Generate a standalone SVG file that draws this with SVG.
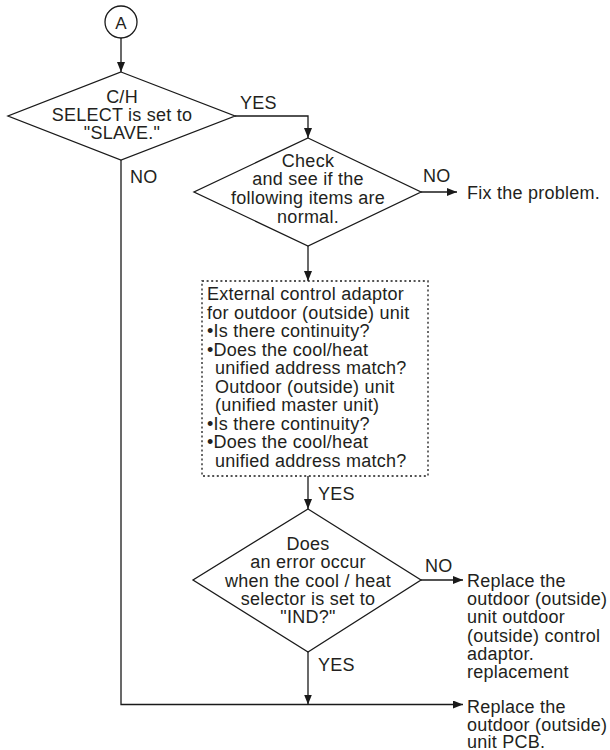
<svg xmlns="http://www.w3.org/2000/svg" width="610" height="750" viewBox="0 0 610 750">
<defs>
<marker id="arr" markerWidth="10" markerHeight="8" refX="10" refY="4" orient="auto" markerUnits="userSpaceOnUse">
<path d="M0,0 L10,4 L0,8 Z" fill="#1a1a1a"/>
</marker>
<style>
.ln{fill:none;stroke:#1a1a1a;stroke-width:1.3}
.shape{fill:#fff;stroke:#1a1a1a;stroke-width:1.3}
.dot{fill:#fff;stroke:#1a1a1a;stroke-width:1.3;stroke-dasharray:2 2.6}
text{font-family:"Liberation Sans",Arial,sans-serif;font-size:18px;letter-spacing:0.25px;fill:#231f20}
.c{text-anchor:middle}
</style>
</defs>
<rect width="610" height="750" fill="#fff"/>
<g id="connectors">
<path class="ln" d="M121,38 V72" marker-end="url(#arr)"/>
<path class="ln" d="M235,116 H308 V138" marker-end="url(#arr)"/>
<path class="ln" d="M421,192 H457" marker-end="url(#arr)"/>
<path class="ln" d="M308,246 V281" marker-end="url(#arr)"/>
<path class="ln" d="M308,476 V509" marker-end="url(#arr)"/>
<path class="ln" d="M421,580 H463" marker-end="url(#arr)"/>
<path class="ln" d="M308,652 V704.5" marker-end="url(#arr)"/>
<path class="ln" d="M121,160 V704.5 H463" marker-end="url(#arr)"/>
<text x="240" y="109">YES</text>
<text x="130" y="183">NO</text>
<text x="423" y="182">NO</text>
<text x="318" y="500">YES</text>
<text x="425" y="572">NO</text>
<text x="318" y="671">YES</text>
</g>
<g id="startA">
<circle class="shape" cx="121" cy="22" r="16"/>
<text class="c" x="121" y="29" style="font-size:17px;letter-spacing:0">A</text>
</g>
<g id="dec1">
<polygon class="shape" points="121,72 235,116 121,160 8,116"/>
<text class="c" x="122" y="102.5">C/H</text>
<text class="c" x="122" y="120.5">SELECT is set to</text>
<text class="c" x="122" y="138.5">"SLAVE."</text>
</g>
<g id="dec2">
<polygon class="shape" points="308,138 421,192 308,246 194,192"/>
<text class="c" x="308" y="166.7">Check</text>
<text class="c" x="308" y="185.3">and see if the</text>
<text class="c" x="308" y="204">following items are</text>
<text class="c" x="308" y="222.7">normal.</text>
</g>
<g id="fix">
<text x="467" y="198.5">Fix the problem.</text>
</g>
<g id="checklist">
<rect class="dot" x="202" y="281" width="226" height="195"/>
<text x="207" y="300">External control adaptor</text>
<text x="207" y="318.5">for outdoor (outside) unit</text>
<text x="207" y="337">•Is there continuity?</text>
<text x="207" y="355.5">•Does the cool/heat</text>
<text x="215" y="374">unified address match?</text>
<text x="215" y="392.5">Outdoor (outside) unit</text>
<text x="215" y="411">(unified master unit)</text>
<text x="207" y="429.5">•Is there continuity?</text>
<text x="207" y="448">•Does the cool/heat</text>
<text x="215" y="466.5">unified address match?</text>
</g>
<g id="dec3">
<polygon class="shape" points="308,509 421,580 308,652 193,580"/>
<text class="c" x="308" y="550">Does</text>
<text class="c" x="308" y="568.3">an error occur</text>
<text class="c" x="308" y="586.7">when the cool / heat</text>
<text class="c" x="308" y="605">selector is set to</text>
<text class="c" x="308" y="623.3">"IND?"</text>
</g>
<g id="replaceAdaptor">
<text x="467" y="586.7">Replace the</text>
<text x="467" y="605">outdoor (outside)</text>
<text x="467" y="623.3">unit outdoor</text>
<text x="467" y="641.7">(outside) control</text>
<text x="467" y="660">adaptor.</text>
<text x="467" y="678.3">replacement</text>
</g>
<g id="replacePCB">
<text x="467" y="713">Replace the</text>
<text x="467" y="731">outdoor (outside)</text>
<text x="467" y="747.5">unit PCB.</text>
</g>
</svg>
